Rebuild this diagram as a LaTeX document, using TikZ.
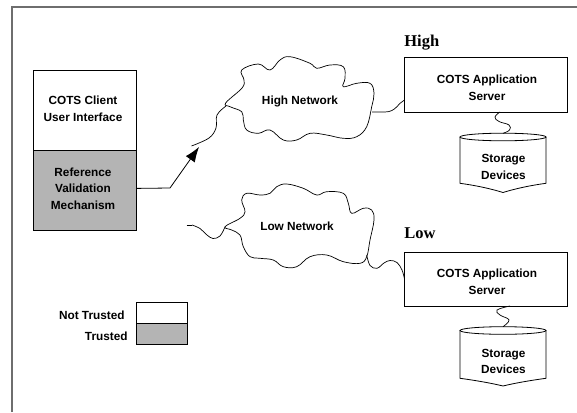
\documentclass[tikz,border=0pt]{standalone}
\usepackage{fontspec}
\setmainfont{Liberation Sans}
\newfontfamily\serifbold{Liberation Serif}
\usetikzlibrary{arrows.meta}
\definecolor{trustgray}{RGB}{180,180,180}
\definecolor{framegray}{RGB}{110,110,110}
\begin{document}
\begin{tikzpicture}[x=1pt,y=-1pt,line width=0.8pt,
  lbl/.style={font=\bfseries\fontsize{11.8}{16.7}\selectfont,align=center,inner sep=0pt},
  hdr/.style={font=\serifbold\bfseries\fontsize{16.5}{18}\selectfont,inner sep=0pt,anchor=west},
  boxw/.style={draw,fill=white,anchor=north west,inner sep=0pt},
  boxg/.style={draw,fill=trustgray,anchor=north west,inner sep=0pt},
  wire/.style={line width=0.7pt},
  cloud/.style={draw,line width=0.7pt,fill=white}]
\useasboundingbox (0,0) rectangle (577,412);
% frame
\draw[framegray,line width=1.6pt] (12,412) -- (12,7) -- (577,7);

% client stack
\node[boxw,minimum width=103pt,minimum height=80pt] (cui) at (33,70) {};
\node[boxg,minimum width=103pt,minimum height=80pt] (rvm) at (33,150) {};
\node[lbl] (cuit) at (83,108.5) {COTS Client\\User Interface};
\node[lbl] (rvmt) at (83,188.5) {Reference\\Validation\\Mechanism};

% arrow
\coordinate (bend) at (170,188);
\coordinate (atip) at (199,147);
\draw[line width=0.8pt,-{Latex[length=15pt,width=11pt]}] ([yshift=2pt]rvm.east) -- (bend) -- (atip);

% High network cloud
\draw[cloud] plot[smooth cycle,tension=0.65] coordinates {
 (225.7,103) (242,88) (244,80) (241.7,70) (258.3,64) (270,70) (280,60) (290,56.7)
 (310,63.3) (316.7,68.3) (330,65) (343.3,66.7) (345,78.3) (343.3,86.7) (356.7,83.3)
 (370,83.3) (374,93.3) (371.7,106.7) (366.7,126.7) (356.7,136.7) (343.3,138.3)
 (326.7,135) (310,133.3) (296.7,140) (283.3,140) (270,130) (258.3,133.3) (246.7,130)
 (243.3,120) (241.7,111.7) (230,106.7)};
\node[lbl] (hnet) at (300,101) {High Network};
\coordinate (hcL) at (226,106);
\coordinate (hwEnd) at (191.5,146);
\draw[wire] plot[smooth,tension=0.6] coordinates {(hwEnd) (209,138) (216,128) (217,115) (hcL)};
\coordinate (hcR) at (372,112);

% High server
\node[hdr] (hlab) at (404,43) {High};
\node[boxw,minimum width=163pt,minimum height=55pt] (hsrv) at (404,57) {};
\node[lbl] (hsrvt) at (487,88) {COTS Application\\Server};
\coordinate (hsIn) at (404.5,100);
\draw[wire] (hcR) -- (385,112) .. controls (396,112) and (398,103) .. (hsIn);

% High storage
\draw[fill=white] (460,137) -- (460,183.3) .. controls (480,186) and (495,190) .. (503,192.5)
   .. controls (511,190) and (526,186) .. (546,183.3) -- (546,137);
\draw[fill=white] (503,137) ellipse [x radius=43pt,y radius=3.8pt];
\node[lbl] (hsto) at (503.5,167) {Storage\\Devices};
\coordinate (hsOut) at (500,112);
\coordinate (hstoIn) at (503,133.3);
\draw[wire] plot[smooth,tension=0.7] coordinates {(hsOut) (495,117) (499,121.5) (509,125) (509.5,130) (hstoIn)};

% Low network cloud
\draw[cloud] plot[smooth cycle,tension=0.65] coordinates {
 (225,226.7) (240,218.3) (245,211.7) (241.7,200) (246.7,193.3) (260,195) (270,193.3)
 (276.7,186.7) (286.7,184) (303.3,188.3) (316.7,195) (326.7,191.7) (343.3,193.3)
 (348.3,203.3) (351.7,213.3) (363.3,208.3) (371.7,210) (374,220) (370,240)
 (366.7,256.7) (360,263.3) (343.3,261.7) (326.7,255) (310,256.7) (296.7,266.7)
 (283.3,266.7) (273.3,260) (260,258.3) (250,256.7) (243.3,246.7) (240,235) (231.7,230)};
\node[lbl] (lnet) at (297,226) {Low Network};
\coordinate (lwStart) at (186.7,225);
\coordinate (lcL) at (225,227);
\draw[wire] (lwStart) -- (192,225);
\draw[wire] plot[smooth,tension=0.6] coordinates {(192,225) (200,228.5) (207,235) (213,238.5) (220,236) (lcL)};
\coordinate (lcR) at (366.7,255);

% Low server
\node[hdr] (llab) at (404,233) {Low};
\node[boxw,minimum width=163pt,minimum height=54pt] (lsrv) at (404,252) {};
\node[lbl] (lsrvt) at (487,281.5) {COTS Application\\Server};
\coordinate (lsIn) at (404.5,279);
\draw[wire] plot[smooth,tension=0.6] coordinates {(lcR) (370,265.5) (377,268.3) (384,263) (390,260.5) (397,262.5) (402,270) (lsIn)};

% Low storage
\draw[fill=white] (460,330.5) -- (460,378.3) .. controls (480,381) and (495,384) .. (503,386)
   .. controls (511,384) and (526,381) .. (546,378.3) -- (546,330.5);
\draw[fill=white] (503,330.5) ellipse [x radius=43pt,y radius=3.8pt];
\node[lbl] (lsto) at (503.5,361.5) {Storage\\Devices};
\coordinate (lsOut) at (510,306);
\coordinate (lstoIn) at (503,326.7);
\draw[wire] plot[smooth,tension=0.7] coordinates {(lsOut) (497,310) (500,315) (509,320) (lstoIn)};

% legend
\node[boxw,minimum width=51pt,minimum height=21pt] (lgn) at (135.5,302) {};
\node[boxg,minimum width=51pt,minimum height=21pt] (lgt) at (135.5,323) {};
\node[lbl,anchor=east] (lgnt) at (125,315) {Not Trusted};
\node[lbl,anchor=east] (lgtt) at (128,336) {Trusted};
\end{tikzpicture}
\end{document}
